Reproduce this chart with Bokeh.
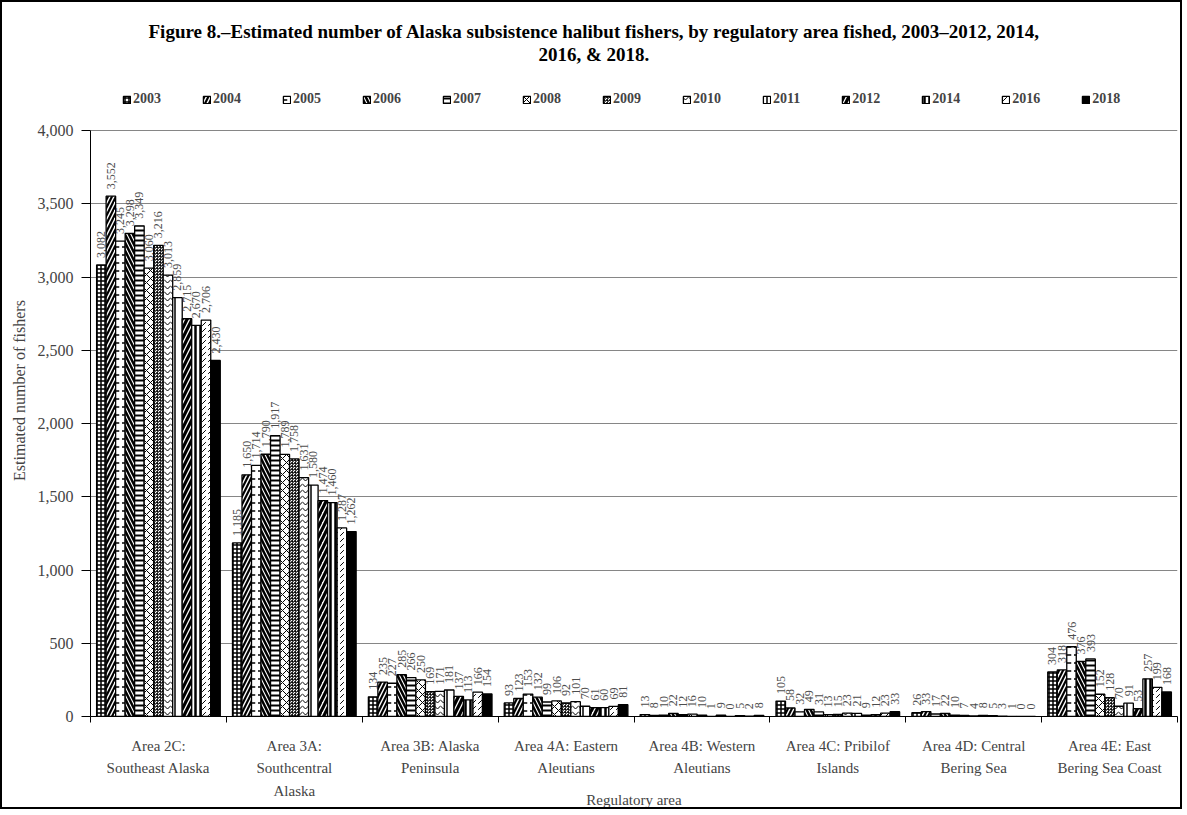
from bokeh.plotting import figure
from bokeh.models import (ColumnDataSource, FixedTicker, NumeralTickFormatter,
                          Legend, LegendItem, Range1d, Title)
from bokeh.core.properties import value
from bokeh.embed import file_html
from bokeh.resources import INLINE
import math

areas = ["Area 2C:\nSoutheast Alaska", "Area 3A:\nSouthcentral\nAlaska",
         "Area 3B: Alaska\nPeninsula", "Area 4A: Eastern\nAleutians",
         "Area 4B: Western\nAleutians", "Area 4C: Pribilof\nIslands",
         "Area 4D: Central\nBering Sea", "Area 4E: East\nBering Sea Coast"]
years = ["2003", "2004", "2005", "2006", "2007", "2008", "2009", "2010",
         "2011", "2012", "2014", "2016", "2018"]

area_2c = [3082, 3552, 3245, 3298, 3349, 3060, 3216, 3013, 2859, 2715, 2670, 2706, 2430]
area_3a = [1185, 1650, 1714, 1790, 1917, 1789, 1758, 1631, 1580, 1474, 1460, 1287, 1262]
area_3b = [134, 235, 227, 285, 266, 250, 169, 171, 181, 137, 113, 166, 154]
area_4a = [93, 123, 153, 132, 99, 106, 92, 101, 70, 61, 60, 69, 81]
area_4b = [13, 8, 10, 22, 12, 16, 10, 1, 9, 0, 5, 2, 8]
area_4c = [105, 58, 32, 49, 31, 13, 15, 23, 21, 9, 12, 23, 33]
area_4d = [26, 33, 17, 22, 10, 7, 4, 8, 5, 3, 1, 0, 0]
area_4e = [304, 318, 476, 376, 393, 152, 128, 70, 91, 53, 257, 199, 168]

table = [area_2c, area_3a, area_3b, area_4a, area_4b, area_4c, area_4d, area_4e]

styles = [
    dict(fill_color="white", hatch_pattern="+", hatch_scale=4, hatch_weight=1.5),
    dict(fill_color="white", hatch_pattern="/", hatch_scale=8, hatch_weight=2.2),
    dict(fill_color="white", hatch_pattern='"', hatch_scale=8, hatch_weight=1.5),
    dict(fill_color="white", hatch_pattern="\\", hatch_scale=8, hatch_weight=2.5),
    dict(fill_color="white", hatch_pattern="-", hatch_scale=5, hatch_weight=2),
    dict(fill_color="white", hatch_pattern="x", hatch_scale=8, hatch_weight=1),
    dict(fill_color="white", hatch_pattern="*", hatch_scale=3, hatch_weight=0.7),
    dict(fill_color="white", hatch_pattern="v", hatch_scale=6, hatch_weight=1),
    dict(fill_color="white", hatch_pattern="|", hatch_scale=8, hatch_weight=1.5),
    dict(fill_color="white", hatch_pattern="/", hatch_scale=10, hatch_weight=3.2),
    dict(fill_color="white", hatch_pattern="|", hatch_scale=5, hatch_weight=2.5),
    dict(fill_color="white", hatch_pattern=",", hatch_scale=6, hatch_weight=1),
    dict(fill_color="black"),
]

SERIF = "Liberation Serif"

# frame spans from the legend row down to zero; the value axis stops at 4,000
p = figure(width=1182, height=809, output_backend="svg",
           toolbar_location=None, x_range=Range1d(0, 8),
           y_range=Range1d(0, 4000 * 652 / 586),
           min_border_left=88, min_border_right=7, min_border_bottom=95,
           min_border_top=62)
p.styles = {"border": "2px solid black"}

bw = 0.07
items = []
for j, yr in enumerate(years):
    xs = [i + 0.5 + (j - 6) * bw for i in range(len(areas))]
    tops = [row[j] for row in table]
    labels = ["{:,}".format(v) for v in tops]
    src = ColumnDataSource(dict(x=xs, top=tops, label=labels))
    r = p.vbar(x="x", top="top", width=bw, source=src, line_color="black",
               line_width=1.3, hatch_color="black", **styles[j])
    items.append(LegendItem(label=yr, renderers=[r]))
    p.text(x="x", y="top", text="label", source=src, angle=math.pi / 2,
           text_align="left", text_baseline="middle", y_offset=-7,
           text_font=value(SERIF), text_font_size="12px", text_color="#4d4d4d")

legend = Legend(items=items, orientation="horizontal", location=(32, 609),
                glyph_width=9, glyph_height=9, label_standoff=2, spacing=41,
                label_text_font=SERIF, label_text_font_size="14px",
                label_text_font_style="bold", border_line_color=None,
                background_fill_alpha=0, margin=0, padding=4)
p.add_layout(legend, "center")

t2 = Title(text="2016, & 2018.", align="left", text_font=SERIF,
           text_font_size="19px", text_font_style="bold", text_color="black",
           standoff=0, offset=448)
t1 = Title(text="Figure 8.\u2013Estimated number of Alaska subsistence halibut fishers, "
                "by regulatory area fished, 2003\u20132012,  2014,",
           align="left", text_font=SERIF, text_font_size="19px",
           text_font_style="bold", text_color="black", standoff=0, offset=58)
p.add_layout(t2, "above")
p.add_layout(t1, "above")

p.yaxis.ticker = FixedTicker(ticks=list(range(0, 4001, 500)))
p.yaxis.bounds = (0, 4000)
p.yaxis.formatter = NumeralTickFormatter(format="0,0")
p.yaxis.axis_label = "Estimated number of fishers"
p.yaxis.axis_label_text_font = SERIF
p.yaxis.axis_label_text_font_size = "16px"
p.yaxis.axis_label_text_font_style = "normal"
p.yaxis.axis_label_standoff = 7
p.yaxis.major_label_text_font = SERIF
p.yaxis.major_label_text_font_size = "16px"
p.yaxis.major_label_standoff = 8
p.yaxis.major_tick_out = 9
p.yaxis.major_tick_in = 0
p.yaxis.minor_tick_line_color = None
p.yaxis.axis_line_color = "black"

p.xaxis.ticker = FixedTicker(ticks=[i + 0.5 for i in range(8)],
                             minor_ticks=list(range(0, 9)))
p.xaxis.major_label_overrides = {i + 0.5: a for i, a in enumerate(areas)}
p.xaxis.major_tick_out = 0
p.xaxis.major_tick_in = 0
p.xaxis.minor_tick_out = 6
p.xaxis.minor_tick_in = 0
p.xaxis.minor_tick_line_color = "black"
p.xaxis.major_label_text_font = SERIF
p.xaxis.major_label_text_font_size = "15px"
p.xaxis.major_label_text_line_height = 1.42
p.xaxis.major_label_standoff = 15
p.xaxis.axis_label = "Regulatory area"
p.xaxis.axis_label_text_font = SERIF
p.xaxis.axis_label_text_font_size = "15px"
p.xaxis.axis_label_text_font_style = "normal"
p.xaxis.axis_label_standoff = -10
p.xaxis.axis_line_color = "black"

p.xgrid.grid_line_color = None
p.ygrid.ticker = FixedTicker(ticks=list(range(500, 4001, 500)))
p.ygrid.grid_line_color = "#868686"
p.ygrid.grid_line_width = 1
p.outline_line_color = None

open("out.html", "w").write(file_html(p, INLINE))
